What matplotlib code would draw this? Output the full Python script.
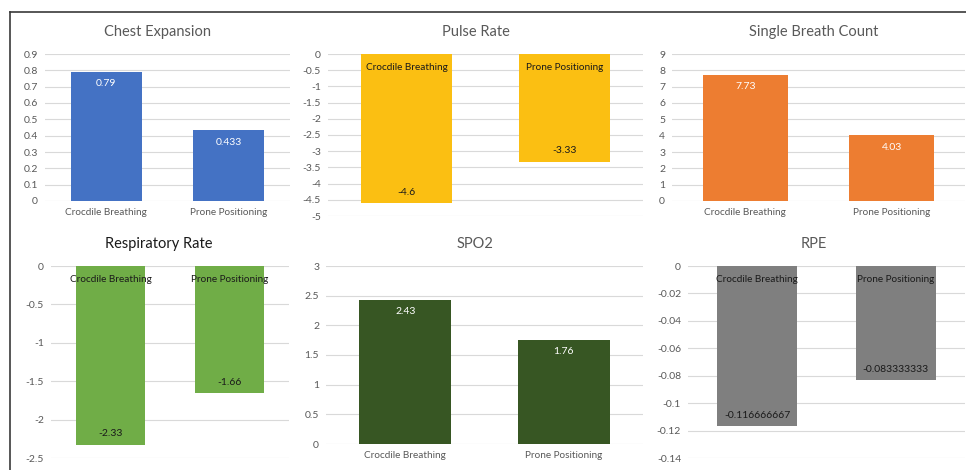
import matplotlib.pyplot as plt
from matplotlib.lines import Line2D
from matplotlib.ticker import FuncFormatter, MultipleLocator

plt.rcParams['font.family'] = ['Lato', 'DejaVu Sans']

categories = ['Crocdile Breathing', 'Prone Positioning']

chest_expansion = [0.79, 0.433]
pulse_rate = [-4.6, -3.33]
single_breath = [7.73, 4.03]
respiratory_rate = [-2.33, -1.66]
spo2 = [2.43, 1.76]
rpe = [-0.116666667, -0.083333333]

W, H = 966, 470
fig = plt.figure(figsize=(W / 100, H / 100), dpi=100)

# (title, values, colour, ylim, step, axes box in px: left, right, top, bottom, title colour, title x)
panels = [
    ('Chest Expansion', chest_expansion, '#4472C4', (0, 0.9), 0.1, (45, 290, 54, 201), '#595959', 0.461),
    ('Pulse Rate', pulse_rate, '#FBBF12', (-5, 0), 0.5, (328, 643, 54, 216), '#595959', 0.47),
    ('Single Breath Count', single_breath, '#ED7D31', (0, 9), 1, (672, 965, 54, 201), '#595959', 0.485),
    ('Respiratory Rate', respiratory_rate, '#70AD47', (-2.5, 0), 0.5, (51, 289, 266, 458), '#1a1a1a', 0.454),
    ('SPO2', spo2, '#375623', (0, 3), 0.5, (326, 643, 266, 444), '#595959', 0.47),
    ('RPE', rpe, '#7F7F7F', (-0.14, 0), 0.02, (688, 965, 266, 458), '#595959', 0.455),
]

for title, vals, col, ylim, step, box, tcol, tx in panels:
    l, r, t, b = box
    ax = fig.add_axes([l / W, 1 - b / H, (r - l) / W, (b - t) / H])
    x = list(range(len(categories)))
    ax.bar(x, vals, width=0.58, color=col, zorder=2)
    ax.set_xlim(-0.5, 1.5)
    ax.set_ylim(*ylim)
    ax.yaxis.set_major_locator(MultipleLocator(step))
    ax.yaxis.set_major_formatter(FuncFormatter(lambda v, p: '%g' % round(v, 6)))
    ax.grid(axis='y', color='#D9D9D9', lw=0.8, zorder=0)
    ax.set_axisbelow(True)
    for s in ax.spines.values():
        s.set_visible(False)
    ax.tick_params(axis='both', length=0, labelsize=7.5, labelcolor='#595959', pad=5)
    ax.set_title(title, fontsize=10.5, color=tcol, pad=13, x=tx)

    negative = ylim[1] <= 0
    if negative:
        ax.set_xticks([])
        for i, c in enumerate(categories):
            ax.annotate(c, (i, 0), xytext=(0, -13), textcoords='offset pixels',
                        ha='center', va='center', fontsize=7.2, color='#1a1a1a')
        for i, v in enumerate(vals):
            ax.annotate('{:.9g}'.format(v), (i, v), xytext=(0, 11), textcoords='offset pixels',
                        ha='center', va='center', fontsize=7.5, color='#1a1a1a')
    else:
        ax.set_xticks(x)
        ax.set_xticklabels(categories, fontsize=7.2)
        for i, v in enumerate(vals):
            ax.annotate('{:.9g}'.format(v), (i, v), xytext=(0, -12), textcoords='offset pixels',
                        ha='center', va='center', fontsize=7.5, color='white')

# frame lines of the original figure
fig.add_artist(Line2D([10 / W, 1], [1 - 12 / H, 1 - 12 / H], color='#3a3a3a', lw=1.2))
fig.add_artist(Line2D([10 / W, 10 / W], [1 - 12 / H, 0], color='#3a3a3a', lw=1.2))

fig.savefig('out.png', dpi=100, facecolor='white')
